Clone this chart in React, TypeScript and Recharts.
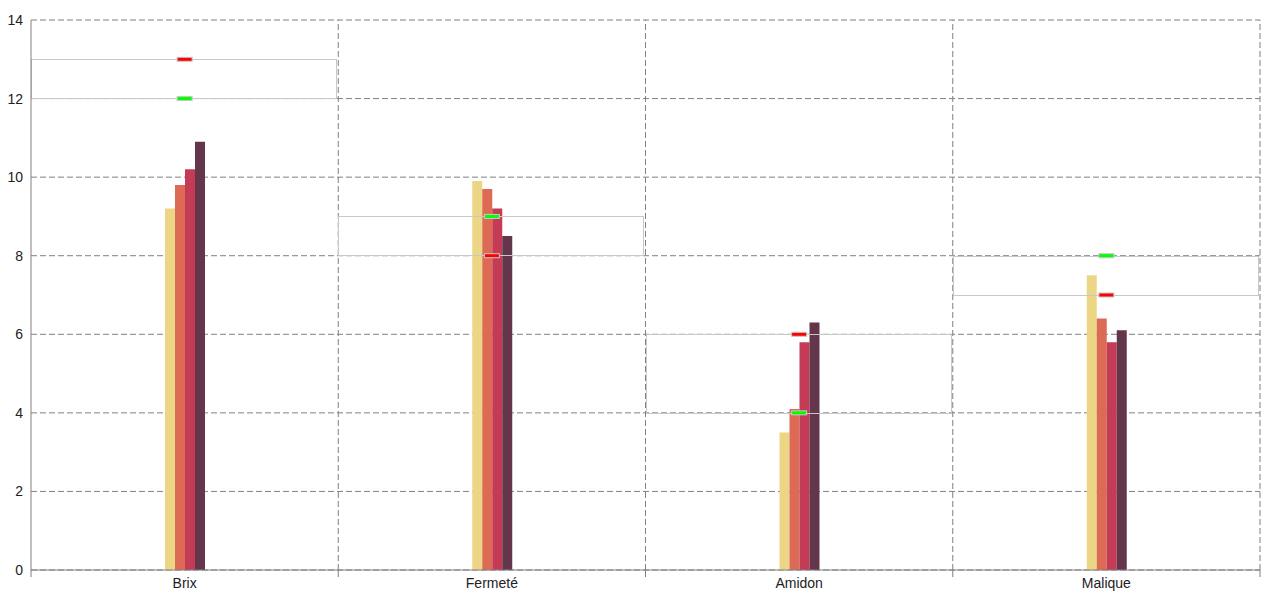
import {
    ComposedChart,
    Bar,
    XAxis,
    YAxis,
    CartesianGrid,
    ReferenceArea,
    ReferenceLine,
    Scatter,
} from "recharts";

const categories = ["Brix", "Fermeté", "Amidon", "Malique"];
const serie1 = [9.2, 9.9, 3.5, 7.5];
const serie2 = [9.8, 9.7, 4.1, 6.4];
const serie3 = [10.2, 9.2, 5.8, 5.8];
const serie4 = [10.9, 8.5, 6.3, 6.1];
const greenMarks = [12, 9, 4, 8];
const redMarks = [13, 8, 6, 7];
const yTicks = [0, 2, 4, 6, 8, 10, 12, 14];

const colors = ["#ecd584", "#dd6a55", "#c43b55", "#63364b"];

const data = categories.map((name, i) => ({
    name,
    s1: serie1[i],
    s2: serie2[i],
    s3: serie3[i],
    s4: serie4[i],
    green: greenMarks[i],
    red: redMarks[i],
}));

const CatTick = (props: any) => {
    const {x, y, payload} = props;
    const half = payload.offset ?? 0;
    const isLast = payload.value === categories[categories.length - 1];
    return (
        <g>
            <line x1={x - half} y1={y} x2={x - half} y2={y + 7} stroke="#808080"/>
            {isLast && <line x1={x + half} y1={y} x2={x + half} y2={y + 7} stroke="#808080"/>}
            <text x={x} y={y + 18} textAnchor="middle" fill="#222" fontSize={14}>
                {payload.value}
            </text>
        </g>
    );
};

// range box, pulled in a little from the band edges
const BoxShape = (p: any) => (
    <rect
        x={Math.round(p.x) + 0.5}
        y={Math.round(p.y) + 0.5}
        width={Math.round(p.width) - 2}
        height={Math.round(p.height)}
        fill="none"
        stroke="#c8c8c8"
    />
);

const marker = (fill: string) => (p: any) => (
    <rect x={p.cx - 7.5} y={p.cy - 2} width={15} height={4} fill={fill} stroke="#c8c8c8"/>
);

export default function App() {
    return (
        <div style={{fontFamily: "'Liberation Sans', Arial, sans-serif"}}>
            <ComposedChart
                width={1264}
                height={592}
                data={data}
                barGap={0}
                margin={{top: 12, right: 12, left: 0, bottom: 0}}
            >
                <CartesianGrid vertical={false} strokeDasharray="6 3" stroke="#808080"/>
                <XAxis
                    dataKey="name"
                    height={30}
                    tickSize={0}
                    tickMargin={0}
                    tickLine={false}
                    stroke="#808080"
                    tick={<CatTick/>}
                />
                <YAxis
                    width={23}
                    domain={[0, 14]}
                    ticks={yTicks}
                    tickSize={0}
                    tickMargin={8}
                    tickLine={false}
                    stroke="#808080"
                    tick={{fill: "#222", fontSize: 14}}
                />
                {categories.slice(1).map((c) => (
                    <ReferenceLine key={c} x={c} position="start" stroke="#808080" strokeDasharray="6 3"/>
                ))}
                <ReferenceLine x={categories[categories.length - 1]} position="end" stroke="#808080" strokeDasharray="6 3"/>
                <Bar dataKey="s1" barSize={10} fill={colors[0]} isAnimationActive={false}/>
                <Bar dataKey="s2" barSize={10} fill={colors[1]} isAnimationActive={false}/>
                <Bar dataKey="s3" barSize={10} fill={colors[2]} isAnimationActive={false}/>
                <Bar dataKey="s4" barSize={10} fill={colors[3]} isAnimationActive={false}/>
                {categories.map((c, i) => (
                    <ReferenceArea
                        key={c}
                        x1={c}
                        x2={c}
                        y1={Math.min(greenMarks[i], redMarks[i])}
                        y2={Math.max(greenMarks[i], redMarks[i])}
                        shape={BoxShape}
                        zIndex={450}
                    />
                ))}
                <Scatter dataKey="green" shape={marker("#00ff00")} isAnimationActive={false}/>
                <Scatter dataKey="red" shape={marker("#ff0000")} isAnimationActive={false}/>
            </ComposedChart>
        </div>
    );
}
